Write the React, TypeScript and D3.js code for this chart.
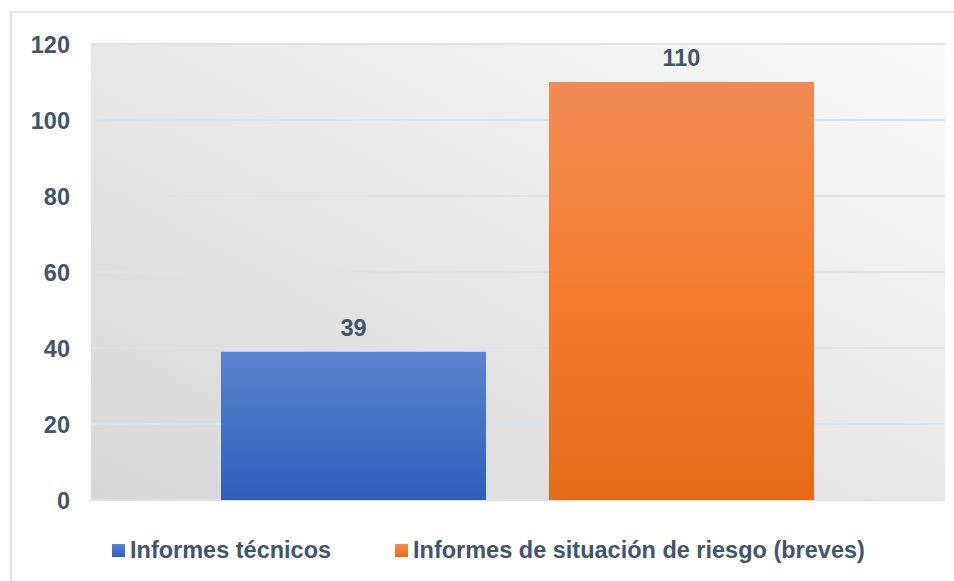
import React from "react";
import * as d3 from "d3";

const categories = [""];
const seriesNames = ["Informes técnicos", "Informes de situación de riesgo (breves)"];
const seriesValues = [39, 110];
const yTicks = [0, 20, 40, 60, 80, 100, 120];

const W = 954;
const H = 581;
const M = { left: 91, right: 9, top: 44, bottom: 81 };
const TXT = "#44546a";
const FONT = "'Liberation Sans', Arial, sans-serif";
const FS = 23.5;

export default function App() {
  const x0 = d3
    .scaleBand<string>()
    .domain(categories)
    .range([M.left, W - M.right])
    .paddingInner(0)
    .paddingOuter(0);
  const x1 = d3
    .scaleBand<string>()
    .domain(seriesNames)
    .range([130, x0.bandwidth() - 131])
    .paddingInner(0.192)
    .paddingOuter(0);
  const y = d3.scaleLinear().domain([0, 120]).range([H - M.bottom, M.top]);

  const gradIds = ["gBlue", "gOrange"];
  const legendX = [112, 395];

  return (
    <svg
      width={W}
      height={H}
      style={{ position: "absolute", left: 0, top: 0, fontFamily: FONT }}
    >
      <defs>
        <linearGradient id="bgGrad" x1="0" y1="1" x2="1" y2="0">
          <stop offset="0" stopColor="#d6d6d6" />
          <stop offset="1" stopColor="#fafafa" />
        </linearGradient>
        <linearGradient id="gBlue" x1="0" y1="0" x2="0" y2="1">
          <stop offset="0" stopColor="#5b84cf" />
          <stop offset="1" stopColor="#2e5eb9" />
        </linearGradient>
        <linearGradient id="gOrange" x1="0" y1="0" x2="0" y2="1">
          <stop offset="0" stopColor="#f18c56" />
          <stop offset="0.5" stopColor="#f47c2c" />
          <stop offset="1" stopColor="#e56a18" />
        </linearGradient>
      </defs>
      <rect x={0} y={0} width={W} height={H} fill="#ffffff" />
      <rect
        x={11}
        y={12}
        width={W + 10}
        height={H + 10}
        fill="none"
        stroke="#dfe4ec"
        strokeWidth={2}
      />
      <rect
        x={M.left}
        y={M.top - 1}
        width={W - M.right - M.left}
        height={H - M.bottom - M.top + 1}
        fill="url(#bgGrad)"
      />
      {yTicks.map((t) => (
        <g key={t}>
          <line
            x1={M.left}
            x2={W - M.right}
            y1={y(t)}
            y2={y(t)}
            stroke="#dde3ec"
            strokeWidth={2}
          />
          <text
            x={70}
            y={y(t) + 8.5}
            textAnchor="end"
            fontSize={FS}
            fontWeight="bold"
            fill={TXT}
          >
            {t}
          </text>
        </g>
      ))}
      {categories.map((c) => (
        <g key={"c" + c} transform={`translate(${x0(c)},0)`}>
          {seriesNames.map((s, i) => {
            const v = seriesValues[i];
            const bx = x1(s) as number;
            return (
              <g key={s}>
                <rect
                  x={bx}
                  y={y(v)}
                  width={x1.bandwidth()}
                  height={y(0) - y(v)}
                  fill={`url(#${gradIds[i]})`}
                />
                <text
                  x={bx + x1.bandwidth() / 2}
                  y={y(v) - 16}
                  textAnchor="middle"
                  fontSize={FS}
                  fontWeight="bold"
                  fill={TXT}
                >
                  {v}
                </text>
              </g>
            );
          })}
        </g>
      ))}
      {seriesNames.map((s, i) => (
        <g key={"l" + s}>
          <rect x={legendX[i]} y={544} width={13} height={13} fill={`url(#${gradIds[i]})`} />
          <text
            x={legendX[i] + 18}
            y={558}
            fontSize={FS}
            fontWeight="bold"
            fill={TXT}
          >
            {s}
          </text>
        </g>
      ))}
    </svg>
  );
}
